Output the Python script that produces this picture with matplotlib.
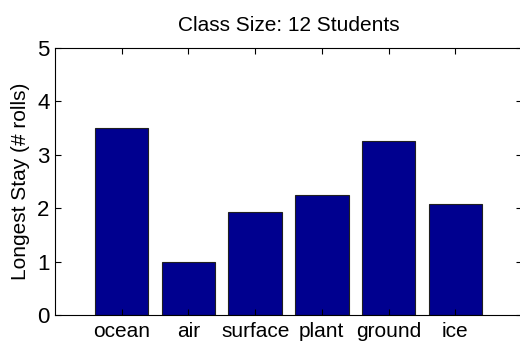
import numpy as np
import matplotlib.pyplot as plt

# data
categories = ["ocean", "air", "surface", "plant", "ground", "ice"]
longest_stay = [3.5, 1.0, 1.92, 2.25, 3.25, 2.08]
y_ticks = [0, 1, 2, 3, 4, 5]

plt.rcParams['font.family'] = ['Liberation Sans', 'DejaVu Sans']

fig = plt.figure(figsize=(5.2, 3.42), dpi=100)
# matlab style axes, the right edge falls just outside the picture
ax = fig.add_axes([55 / 520, 27 / 342, 467 / 520, 267 / 342])

x = np.arange(1, len(categories) + 1)
ax.bar(x, longest_stay, width=0.8, color='#00008f', edgecolor='#202020', linewidth=0.8)

ax.set_xlim(0, 7)
ax.set_ylim(0, 5)
ax.set_xticks(x)
ax.set_xticklabels(categories)
ax.set_yticks(y_ticks)
ax.tick_params(direction='in', length=4, width=0.8, top=True, right=True)
ax.tick_params(axis='x', labelsize=15, pad=5)
ax.tick_params(axis='y', labelsize=16, pad=4)
for s in ax.spines.values():
    s.set_linewidth(0.8)

ax.set_ylabel("Longest Stay (# rolls)", fontsize=15, labelpad=5)
ax.set_title("Class Size: 12 Students", fontsize=15, pad=12)

fig.savefig("out.png", dpi=100)
